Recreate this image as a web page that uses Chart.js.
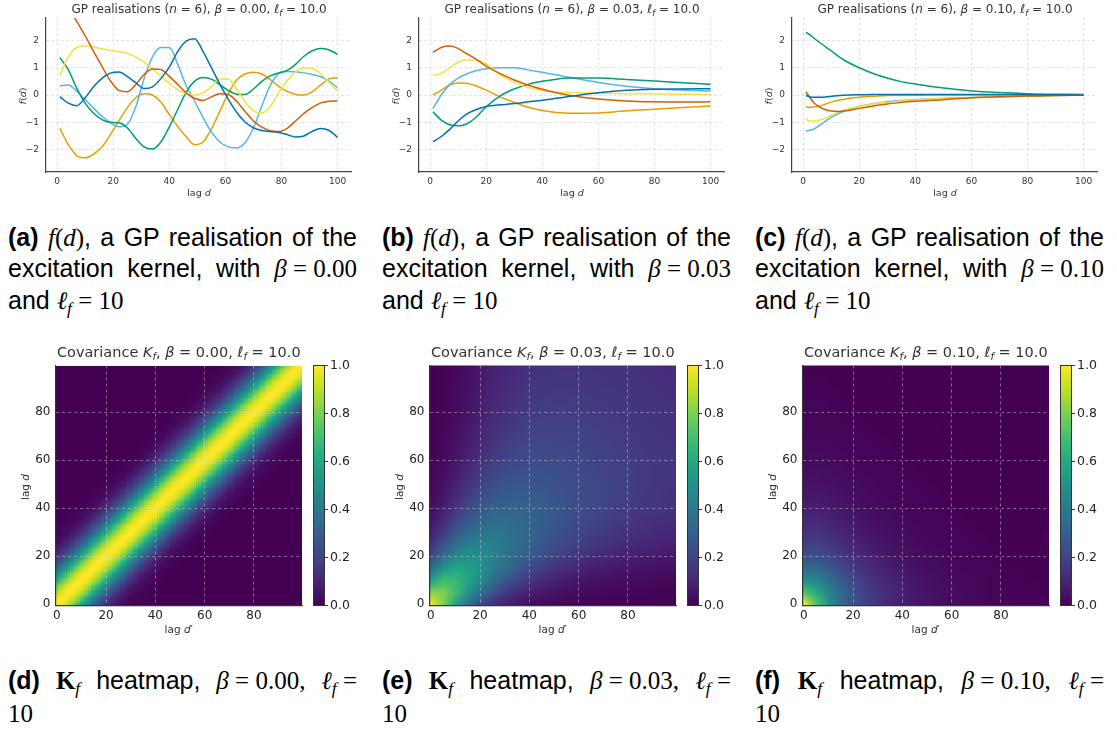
<!DOCTYPE html>
<html>
<head>
<meta charset="utf-8">
<script src="https://cdn.jsdelivr.net/npm/chart.js@4.4.1/dist/chart.umd.min.js"></script>
<style>
  body { margin: 0; background: #fff; }
  #fig { position: relative; width: 1117px; height: 729px; overflow: hidden; font-family: "DejaVu Sans", sans-serif; color: #333; }
  #fig canvas { position: absolute; }
  .lbl { position: absolute; white-space: nowrap; transform: translate(-50%, -50%); z-index: 2; }
  .rot { transform: translate(-50%, -50%) rotate(-90deg); }
  .sb { font-size: 70%; position: relative; top: 0.3em; }
  .cap { position: absolute; width: 349px; font-family: "Liberation Sans", Arial, sans-serif; font-size: 25px; line-height: 30.5px; color: #000; z-index: 2; }
  .cap > div { white-space: nowrap; }
  .cap .j { text-align: justify; text-align-last: justify; }
  .cap .m { font-family: "Liberation Serif", serif; font-style: italic; }
  .cap .mm { display: inline-block; font-family: "Liberation Serif", serif; }
  .cap .mm b { font-family: "Liberation Serif", serif; }
</style>
</head>
<body>
<div id="fig"></div>
<script>
const lagA = [1,4,7,10,13,16,19,22,25,28,31,34,37,40,43,46,49,52,55,58,61,64,67,70,73,76,79,82,85,88,91,94,97,100];
const lagB = [1,4,7,10,13,16,20,25,30,35,40,45,50,60,70,80,90,100];
const lagC = [1,2.5,4,7,10,13,16,20,25,30,35,40,45,50,60,70,80,90,100];

// beta = 0.00
const blueA   = [-0.06,-0.3,-0.39,-0.1,0.3,0.61,0.8,0.84,0.68,0.45,0.24,0.3,0.6,1.02,1.59,1.97,2.06,1.6,1.0,0.4,-0.15,-0.63,-0.99,-1.2,-1.3,-1.34,-1.37,-1.45,-1.54,-1.5,-1.33,-1.23,-1.3,-1.55];
const vermA   = [3.6,3.15,2.7,2.17,1.6,1.05,0.52,0.17,0.12,0.38,0.75,0.95,0.93,0.68,0.39,0.08,-0.12,-0.2,-0.07,0.05,0.02,-0.23,-0.6,-0.95,-1.18,-1.31,-1.34,-1.22,-0.95,-0.67,-0.45,-0.29,-0.23,-0.22];
const yellowA = [0.73,1.4,1.74,1.8,1.76,1.69,1.63,1.59,1.53,1.4,1.2,0.96,0.68,0.42,0.2,0.05,0.0,0.08,0.3,0.59,0.59,0.22,-0.25,-0.57,-0.66,-0.42,0.08,0.52,0.85,0.99,0.97,0.78,0.45,0.15];
const greenA  = [1.37,0.93,0.25,-0.3,-0.67,-0.9,-1.0,-1.02,-1.2,-1.58,-1.9,-1.98,-1.72,-1.17,-0.53,0.1,0.5,0.64,0.58,0.38,0.17,0.03,0.02,0.22,0.5,0.7,0.81,0.9,1.12,1.42,1.62,1.7,1.65,1.49];
const skyA    = [0.34,0.37,0.14,-0.17,-0.48,-0.78,-1.02,-1.16,-1.08,-0.45,0.6,1.4,1.74,1.74,1.13,0.35,-0.22,-0.82,-1.35,-1.72,-1.9,-1.94,-1.75,-1.2,-0.4,0.35,0.78,0.86,0.85,0.81,0.75,0.67,0.5,0.27];
const orangeA = [-1.22,-1.82,-2.22,-2.3,-2.17,-1.9,-1.45,-0.95,-0.47,-0.1,0.05,0.0,-0.26,-0.72,-1.15,-1.53,-1.82,-1.72,-1.25,-0.6,0.05,0.55,0.77,0.83,0.77,0.56,0.32,0.13,0.02,0.0,0.12,0.37,0.59,0.63];

// beta = 0.03
const blueB   = [-1.71,-1.52,-1.26,-0.95,-0.7,-0.55,-0.42,-0.36,-0.31,-0.25,-0.19,-0.12,-0.05,0.08,0.17,0.21,0.22,0.23];
const vermB   = [1.56,1.74,1.79,1.7,1.52,1.34,1.06,0.78,0.55,0.36,0.21,0.08,-0.02,-0.15,-0.22,-0.25,-0.26,-0.25];
const yellowB = [0.73,0.79,1.0,1.2,1.29,1.28,1.14,0.74,0.46,0.27,0.16,0.11,0.09,0.07,0.05,0.04,0.03,0.02];
const greenB  = [-0.61,-0.92,-1.09,-1.13,-1.06,-0.85,-0.43,-0.03,0.22,0.39,0.5,0.58,0.62,0.62,0.57,0.51,0.45,0.39];
const skyB    = [-0.49,0.0,0.38,0.62,0.77,0.88,0.96,1.0,1.0,0.92,0.83,0.74,0.64,0.46,0.32,0.23,0.18,0.15];
const orangeB = [0.0,0.18,0.37,0.44,0.43,0.35,0.18,-0.07,-0.27,-0.45,-0.57,-0.64,-0.67,-0.66,-0.58,-0.52,-0.46,-0.4];

// beta = 0.10
const blueC   = [-0.02,-0.07,-0.08,-0.08,-0.05,-0.02,0.0,0.01,0.02,0.02,0.02,0.02,0.02,0.02,0.02,0.02,0.01,0.01,0.0];
const vermC   = [0.12,-0.1,-0.3,-0.5,-0.59,-0.6,-0.57,-0.49,-0.4,-0.33,-0.27,-0.23,-0.2,-0.17,-0.1,-0.06,-0.04,-0.02,-0.01];
const yellowC = [-0.88,-0.95,-0.95,-0.89,-0.75,-0.61,-0.51,-0.42,-0.33,-0.27,-0.22,-0.18,-0.15,-0.13,-0.09,-0.06,-0.04,-0.02,-0.01];
const greenC  = [2.29,2.2,2.07,1.84,1.62,1.39,1.2,1.0,0.79,0.62,0.49,0.4,0.32,0.26,0.15,0.09,0.05,0.03,0.02];
const skyC    = [-1.32,-1.29,-1.24,-1.03,-0.82,-0.66,-0.54,-0.42,-0.32,-0.25,-0.2,-0.17,-0.14,-0.12,-0.09,-0.06,-0.04,-0.02,-0.01];
const orangeC = [-0.43,-0.45,-0.44,-0.37,-0.26,-0.18,-0.13,-0.08,-0.05,-0.02,-0.01,-0.01,0,0,0,0,0,0,0];

const lineXTicks = [0, 20, 40, 60, 80, 100];
const lineYTicks = [-2, -1, 0, 1, 2];
const heatTicks = [0, 20, 40, 60, 80];
const cbarTicks = [0, 0.2, 0.4, 0.6, 0.8, 1.0];
const betaLabels = ['0.00', '0.03', '0.10'];
const panelTags = [['a', 'b', 'c'], ['d', 'e', 'f']];

// K_f for beta = 0: value against the offset |d - d'| (0, 1, 2, ...)
const covDProfile = [1.000,0.995,0.980,0.956,0.923,0.883,0.835,0.783,0.726,0.667,0.607,0.546,0.487,0.430,0.375,0.325,0.278,0.236,0.198,0.164,0.135,0.110,0.089,0.071,0.056,0.044,0.034,0.026,0.020,0.015,0.011,0.008,0.006,0.004,0.003,0.002];

// K_f for beta = 0.03 and 0.10 on lags 0, 5, ..., 100 (lower triangle, row = d, column = d')
const heatNodes = [0,5,10,15,20,25,30,35,40,45,50,55,60,65,70,75,80,85,90,95,100];
const covE = [
  [1.000],
  [0.808,0.810],
  [0.566,0.682,0.674],
  [0.366,0.516,0.586,0.573],
  [0.227,0.368,0.471,0.510,0.494],
  [0.140,0.255,0.361,0.426,0.446,0.432],
  [0.088,0.177,0.274,0.348,0.389,0.396,0.382],
  [0.056,0.123,0.205,0.278,0.329,0.353,0.354,0.341],
  [0.036,0.087,0.155,0.223,0.277,0.310,0.322,0.319,0.307],
  [0.025,0.063,0.119,0.179,0.232,0.269,0.289,0.294,0.289,0.278],
  [0.018,0.048,0.094,0.146,0.196,0.234,0.258,0.268,0.270,0.264,0.253],
  [0.013,0.036,0.074,0.121,0.167,0.205,0.230,0.245,0.250,0.247,0.241,0.232],
  [0.010,0.029,0.060,0.101,0.143,0.180,0.207,0.223,0.231,0.231,0.229,0.222,0.213],
  [0.007,0.023,0.049,0.086,0.124,0.159,0.186,0.204,0.214,0.217,0.215,0.211,0.205,0.197],
  [0.006,0.019,0.042,0.074,0.109,0.142,0.169,0.187,0.199,0.203,0.203,0.200,0.196,0.190,0.183],
  [0.005,0.016,0.036,0.065,0.097,0.128,0.154,0.173,0.185,0.191,0.192,0.191,0.187,0.182,0.176,0.171],
  [0.004,0.013,0.031,0.057,0.087,0.117,0.141,0.161,0.173,0.180,0.182,0.182,0.179,0.175,0.170,0.165,0.159],
  [0.003,0.012,0.028,0.051,0.079,0.107,0.131,0.150,0.163,0.170,0.173,0.173,0.171,0.168,0.164,0.159,0.154,0.150],
  [0.003,0.010,0.025,0.046,0.073,0.099,0.122,0.140,0.153,0.161,0.165,0.165,0.164,0.162,0.158,0.154,0.149,0.145,0.141],
  [0.003,0.009,0.022,0.042,0.067,0.092,0.114,0.132,0.145,0.153,0.157,0.159,0.158,0.155,0.152,0.148,0.144,0.141,0.137,0.132],
  [0.002,0.008,0.020,0.039,0.062,0.086,0.108,0.125,0.138,0.146,0.151,0.152,0.152,0.150,0.147,0.144,0.140,0.136,0.132,0.129,0.125]
];
const covF = [
  [1.000],
  [0.721,0.607],
  [0.497,0.460,0.368],
  [0.349,0.342,0.284,0.223],
  [0.253,0.257,0.217,0.173,0.135],
  [0.188,0.195,0.167,0.134,0.106,0.082],
  [0.142,0.149,0.129,0.104,0.082,0.064,0.050],
  [0.109,0.115,0.100,0.081,0.064,0.050,0.039,0.030],
  [0.083,0.088,0.077,0.062,0.050,0.039,0.030,0.024,0.018],
  [0.064,0.069,0.060,0.048,0.039,0.030,0.023,0.018,0.014,0.011],
  [0.050,0.053,0.047,0.038,0.030,0.024,0.018,0.014,0.011,0.009,0.007],
  [0.039,0.042,0.036,0.030,0.024,0.018,0.014,0.011,0.009,0.007,0.005,0.004],
  [0.030,0.032,0.028,0.023,0.018,0.014,0.011,0.009,0.007,0.005,0.004,0.003,0.002],
  [0.024,0.025,0.022,0.018,0.014,0.011,0.009,0.007,0.005,0.004,0.003,0.002,0.002,0.002],
  [0.018,0.020,0.017,0.014,0.011,0.009,0.007,0.005,0.004,0.003,0.002,0.002,0.002,0.001,0.001],
  [0.014,0.015,0.013,0.011,0.009,0.007,0.005,0.004,0.003,0.002,0.002,0.002,0.001,0.001,0.001,0.001],
  [0.011,0.012,0.010,0.008,0.007,0.005,0.004,0.003,0.002,0.002,0.002,0.001,0.001,0.001,0.001,0.001,0.000],
  [0.009,0.009,0.008,0.007,0.005,0.004,0.003,0.002,0.002,0.002,0.001,0.001,0.001,0.001,0,0,0,0],
  [0.007,0.007,0.006,0.005,0.004,0.003,0.002,0.002,0.002,0.001,0.001,0.001,0,0,0,0,0,0,0],
  [0.005,0.006,0.005,0.004,0.003,0.002,0.002,0.002,0.001,0.001,0,0,0,0,0,0,0,0,0,0],
  [0.004,0.004,0.004,0.003,0.002,0.002,0.002,0.001,0.001,0,0,0,0,0,0,0,0,0,0,0,0]
];

const lineColors = ['#0072B2', '#D55E00', '#F0E442', '#009E73', '#56B4E9', '#E69F00'];
const viridisStops = ['#440154','#482475','#414487','#355f8d','#2a788e','#21918c','#22a884','#44bf70','#7ad151','#bddf26','#fde725'];

Chart.defaults.font.family = '"DejaVu Sans", sans-serif';
Chart.defaults.color = '#333';

const fig = document.getElementById('fig');

function hexRgb(h) {
  return [parseInt(h.slice(1, 3), 16), parseInt(h.slice(3, 5), 16), parseInt(h.slice(5, 7), 16)];
}
const viridisRgb = viridisStops.map(hexRgb);
function viridis(v) {
  const t = Math.min(1, Math.max(0, v)) * (viridisRgb.length - 1);
  const i = Math.min(Math.floor(t), viridisRgb.length - 2);
  const f = t - i;
  const a = viridisRgb[i], b = viridisRgb[i + 1];
  return [0, 1, 2].map(c => Math.round(a[c] + (b[c] - a[c]) * f));
}

function addCanvas(left, top, w, h) {
  const c = document.createElement('canvas');
  c.width = w; c.height = h;
  c.style.left = left + 'px'; c.style.top = top + 'px';
  fig.appendChild(c);
  return c;
}

function addLabel(html, x, y, size, extra) {
  const el = document.createElement('div');
  el.className = 'lbl ' + (extra || '');
  el.style.left = x + 'px';
  el.style.top = y + 'px';
  el.style.fontSize = size + 'px';
  el.innerHTML = html;
  fig.appendChild(el);
}

const minus = v => (v < 0 ? '\u2212' + Math.abs(v) : String(v));

// ---------- GP realisations ----------
function lineChart(left, lags, series) {
  const canvas = addCanvas(left, 0, 372, 200);
  return new Chart(canvas, {
    type: 'line',
    data: {
      datasets: series.map((vals, i) => ({
        data: lags.map((d, k) => ({ x: d, y: vals[k] })),
        borderColor: lineColors[i],
        borderWidth: 1.5,
        pointRadius: 0,
        cubicInterpolationMode: 'monotone',
        fill: false
      }))
    },
    options: {
      responsive: false,
      animation: false,
      layout: { padding: { top: 18, right: 20.5, left: 0, bottom: 0 } },
      plugins: { legend: { display: false }, tooltip: { enabled: false } },
      scales: {
        x: {
          type: 'linear', min: -3.95, max: 104.95,
          afterBuildTicks: s => { s.ticks = lineXTicks.map(v => ({ value: v })); },
          afterFit: s => { s.height = 28; },
          ticks: { font: { size: 9 }, color: '#333', padding: 4, autoSkip: false, maxRotation: 0 },
          grid: { color: '#d6d6d6', lineWidth: 0.8, drawTicks: false },
          border: { color: '#444', width: 1.2, dash: [2.5, 2.5] }
        },
        y: {
          min: -2.82, max: 2.82,
          afterBuildTicks: s => { s.ticks = lineYTicks.map(v => ({ value: v })); },
          afterFit: s => { s.width = 46; },
          ticks: { font: { size: 9 }, color: '#333', padding: 7, callback: v => minus(v) },
          grid: { color: '#d6d6d6', lineWidth: 0.8, drawTicks: false },
          border: { color: '#444', width: 1.2, dash: [2.5, 2.5] }
        }
      }
    }
  });
}

const lineLefts = [0, 373, 746];
lineChart(lineLefts[0], lagA, [blueA, vermA, yellowA, greenA, skyA, orangeA]);
lineChart(lineLefts[1], lagB, [blueB, vermB, yellowB, greenB, skyB, orangeB]);
lineChart(lineLefts[2], lagC, [blueC, vermC, yellowC, greenC, skyC, orangeC]);

lineLefts.forEach((left, p) => {
  addLabel('GP realisations (<i>n</i> = 6), <i>β</i> = ' + betaLabels[p] + ', <i>ℓ</i><span class="sb"><i>f</i></span> = 10.0', left + 199, 9, 12);
  addLabel('lag <i>d</i>', left + 199, 192, 9.5);
  addLabel('<i>f</i>(<i>d</i>)', left + 21.5, 96, 9.5, 'rot');
});

// ---------- covariance heatmaps ----------
const triValue = (tab, i, j) => (i >= j ? tab[i][j] : tab[j][i]);

function imageFromCells(n, valueAt) {
  const c = document.createElement('canvas');
  c.width = n; c.height = n;
  const cx = c.getContext('2d');
  const img = cx.createImageData(n, n);
  for (let r = 0; r < n; r++) {
    for (let col = 0; col < n; col++) {
      const rgb = viridis(valueAt(n - 1 - r, col));
      const o = (r * n + col) * 4;
      img.data[o] = rgb[0]; img.data[o + 1] = rgb[1]; img.data[o + 2] = rgb[2]; img.data[o + 3] = 255;
    }
  }
  cx.putImageData(img, 0, 0);
  return c;
}

const heatImages = [
  { img: imageFromCells(100, (d, dp) => covDProfile[Math.abs(d - dp)] || 0), lo: -0.5, hi: 99.5, smooth: false },
  { img: imageFromCells(heatNodes.length, (i, j) => triValue(covE, i, j)), lo: heatNodes[0] - 2.5, hi: heatNodes[heatNodes.length - 1] + 2.5, smooth: true },
  { img: imageFromCells(heatNodes.length, (i, j) => triValue(covF, i, j)), lo: heatNodes[0] - 2.5, hi: heatNodes[heatNodes.length - 1] + 2.5, smooth: true }
];

const heatmapPlugin = {
  id: 'heatmap',
  beforeDraw(chart, args, opts) {
    const { ctx, chartArea, scales: { x, y } } = chart;
    const x0 = x.getPixelForValue(opts.lo), x1 = x.getPixelForValue(opts.hi);
    const y0 = y.getPixelForValue(opts.hi), y1 = y.getPixelForValue(opts.lo);
    ctx.save();
    ctx.beginPath();
    ctx.rect(chartArea.left, chartArea.top, chartArea.right - chartArea.left, chartArea.bottom - chartArea.top);
    ctx.clip();
    ctx.imageSmoothingEnabled = opts.smooth;
    ctx.drawImage(opts.img, x0, y0, x1 - x0, y1 - y0);
    ctx.restore();
  }
};

const heatGrid = {
  color: c => (c.tick && c.tick.value === 0 ? 'rgba(0,0,0,0)' : 'rgba(215,215,215,0.6)'),
  lineWidth: 0.8,
  drawTicks: false
};

function heatChart(left, h) {
  const canvas = addCanvas(left, 340, 310, 300);
  return new Chart(canvas, {
    type: 'scatter',
    data: { datasets: [] },
    plugins: [heatmapPlugin],
    options: {
      responsive: false,
      animation: false,
      layout: { padding: { top: 25.5, right: 8, left: 0, bottom: 0 } },
      plugins: { legend: { display: false }, tooltip: { enabled: false }, heatmap: h },
      scales: {
        x: {
          type: 'linear', min: -0.5, max: 99.5,
          afterBuildTicks: s => { s.ticks = heatTicks.map(v => ({ value: v })); },
          afterFit: s => { s.height = 34.5; },
          ticks: { font: { size: 12 }, color: '#222', padding: 3, autoSkip: false, maxRotation: 0 },
          grid: heatGrid,
          border: { color: '#333', width: 1.2, dash: [3, 3] }
        },
        y: {
          type: 'linear', min: -0.5, max: 99.5,
          afterBuildTicks: s => { s.ticks = heatTicks.map(v => ({ value: v })); },
          afterFit: s => { s.width = 55.5; },
          ticks: { font: { size: 12 }, color: '#222', padding: 5 },
          grid: heatGrid,
          border: { color: '#333', width: 1.2, dash: [3, 3] }
        }
      }
    }
  });
}

const colorbarPlugin = {
  id: 'colorbar',
  beforeDraw(chart) {
    const { ctx, chartArea: a, scales: { y } } = chart;
    const g = ctx.createLinearGradient(0, y.getPixelForValue(0), 0, y.getPixelForValue(1));
    viridisStops.forEach((c, i) => g.addColorStop(i / (viridisStops.length - 1), c));
    ctx.save();
    ctx.fillStyle = g;
    ctx.fillRect(a.left, a.top, a.right - a.left, a.bottom - a.top);
    ctx.restore();
  },
  afterDraw(chart) {
    const { ctx, chartArea: a } = chart;
    ctx.save();
    ctx.strokeStyle = '#333';
    ctx.lineWidth = 1;
    ctx.strokeRect(a.left, a.top, a.right - a.left, a.bottom - a.top);
    ctx.restore();
  }
};

function colorbar(left) {
  const canvas = addCanvas(left, 340, 72, 300);
  return new Chart(canvas, {
    type: 'scatter',
    data: { datasets: [] },
    plugins: [colorbarPlugin],
    options: {
      responsive: false,
      animation: false,
      layout: { padding: { top: 25.5, bottom: 34.5, left: 13.5, right: 0 } },
      plugins: { legend: { display: false }, tooltip: { enabled: false } },
      scales: {
        x: { display: false, min: 0, max: 1 },
        y: {
          position: 'right', min: 0, max: 1,
          afterBuildTicks: s => { s.ticks = cbarTicks.map(v => ({ value: v })); },
          afterFit: s => { s.width = 47.5; },
          ticks: { font: { size: 12.5 }, color: '#222', padding: 2, callback: v => v.toFixed(1) },
          grid: { drawOnChartArea: false, drawTicks: true, tickLength: 3.5, tickColor: '#333', tickWidth: 1 },
          border: { display: false }
        }
      }
    }
  });
}

const heatLefts = [0, 374, 747];
heatLefts.forEach((left, p) => {
  heatChart(left, heatImages[p]);
  colorbar(left + 300);
  addLabel('Covariance <i>K</i><span class="sb"><i>f</i></span>, <i>β</i> = ' + betaLabels[p] + ', <i>ℓ</i><span class="sb"><i>f</i></span> = 10.0', left + 178.75, 352, 14.5);
  addLabel('lag <i>d</i>′', left + 178.75, 629, 10.5);
  addLabel('lag <i>d</i>', left + 25, 487, 10.5, 'rot');
});

// ---------- sub-figure captions ----------
const capLefts = [8, 382, 755];
function addCaption(left, top, lines) {
  const el = document.createElement('div');
  el.className = 'cap';
  el.style.left = left + 'px';
  el.style.top = top + 'px';
  el.innerHTML = lines.map((l, i) => '<div class="' + (i < lines.length - 1 ? 'j' : '') + '">' + l + '</div>').join('');
  fig.appendChild(el);
}
const ellF = '<span class="m">ℓ</span><span class="sb m">f</span>';
capLefts.forEach((left, p) => {
  const b = betaLabels[p];
  addCaption(left, 221.5, [
    '<b>(' + panelTags[0][p] + ')</b> <span class="mm"><span class="m">f</span>(<span class="m">d</span>)</span>, a GP realisation of the',
    'excitation kernel, with <span class="mm"><span class="m">β</span> = ' + b + '</span>',
    'and <span class="mm">' + ellF + ' = 10</span>'
  ]);
  addCaption(left, 664.5, [
    '<b>(' + panelTags[1][p] + ')</b> <span class="mm"><b>K</b><span class="sb m">f</span></span> heatmap, <span class="mm"><span class="m">β</span> = ' + b + ',</span> <span class="mm">' + ellF + ' =</span>',
    '<span class="mm">10</span>'
  ]);
});
</script>
</body>
</html>
